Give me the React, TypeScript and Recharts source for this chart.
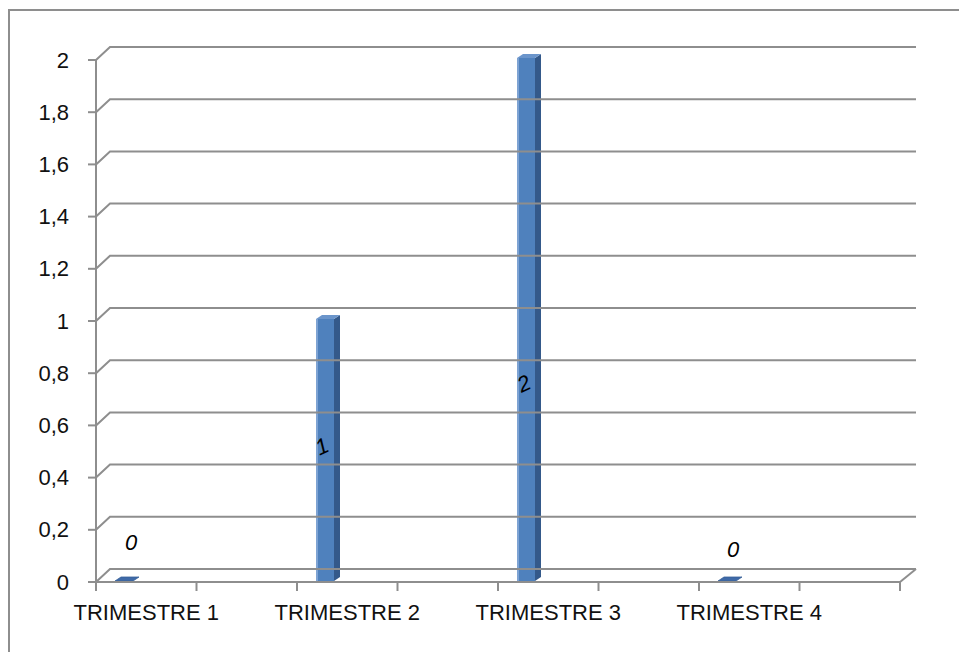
import React from 'react'
import { BarChart, Bar, XAxis, YAxis, LabelList } from 'recharts'

const CATEGORIES = ['TRIMESTRE 1', '', 'TRIMESTRE 2', '', 'TRIMESTRE 3', '', 'TRIMESTRE 4', '']
const VALUES: (number | null)[] = [0, null, 1, null, 2, null, 0, null]
const Y_TICKS = [0, 0.2, 0.4, 0.6, 0.8, 1, 1.2, 1.4, 1.6, 1.8, 2]

const W = 959
const H = 652
const AXIS_X = 96
const X_AXIS_H = 70
const AXIS_Y = H - X_AXIS_H
const PLOT_W = 804
const DEPTH_X = 14
const DEPTH_Y = 13
const SLOT = PLOT_W / CATEGORIES.length
const LINE = '#8e8e8e'
const FONT = '"Liberation Sans", Arial, sans-serif'

// where the value labels sit, per slot (excel 3d puts them oddly)
const LABEL_POS: Record<number, { dx: number; dy: number; frac: number }> = {
  0: { dx: 7, dy: -40, frac: 0 },
  2: { dx: -3, dy: 0, frac: 0.48 },
  4: { dx: -2, dy: 0, frac: 0.62 },
  6: { dx: 6, dy: -33, frac: 0 },
}

const data = CATEGORIES.map((name, i) => ({ key: i, name, value: VALUES[i] }))

const BAR_W = 18
const BAR_SHIFT = -22

function Column(props: any) {
  const { x, y, width, height, value } = props
  if (value == null) return null
  const fl = x + width / 2 - BAR_W / 2 + BAR_SHIFT
  const bottom = y + height - 1
  const dx = 6
  const dy = 4
  if (!height || value === 0) {
    return (
      <polygon
        points={`${fl},${bottom} ${fl + BAR_W},${bottom} ${fl + BAR_W + dx},${bottom - dy} ${fl + dx},${bottom - dy}`}
        fill="#3f6aa8"
        stroke="#375f97"
        strokeWidth={0.8}
      />
    )
  }
  const top = y - 2
  return (
    <g>
      <rect x={fl} y={top} width={BAR_W} height={bottom - top} fill="#4f81bd" />
      <rect x={fl} y={top} width={2} height={bottom - top} fill="#7ea3d3" />
      <polygon
        points={`${fl + BAR_W},${top} ${fl + BAR_W + dx},${top - dy} ${fl + BAR_W + dx},${bottom - dy} ${fl + BAR_W},${bottom}`}
        fill="#34598a"
      />
      <polygon
        points={`${fl},${top} ${fl + dx},${top - dy} ${fl + BAR_W + dx},${top - dy} ${fl + BAR_W},${top}`}
        fill="#6b95cb"
      />
    </g>
  )
}

function ValueLabel(props: any) {
  const { x, y, width, height, value } = props
  if (value == null) return null
  const slot = Math.floor((x + width / 2 - AXIS_X) / SLOT)
  const pos = LABEL_POS[slot] ?? { dx: 0, dy: 0, frac: 0.5 }
  const cx = x + width / 2 + BAR_SHIFT + pos.dx
  const cy = y + height * pos.frac + pos.dy
  const rot = value === 0 ? 0 : -25
  return (
    <text
      x={cx}
      y={cy}
      textAnchor="middle"
      dominantBaseline="central"
      fontFamily={FONT}
      fontStyle="italic"
      fontSize={22}
      fill="#000"
      transform={`rotate(${rot} ${cx} ${cy})`}
    >
      {value}
    </text>
  )
}

function YTick(props: any) {
  const { x, y, payload } = props
  const label = String(payload.value).replace('.', ',')
  return (
    <g>
      <path
        d={`M${AXIS_X},${y} L${AXIS_X + DEPTH_X},${y - DEPTH_Y} L${AXIS_X + PLOT_W + 16},${y - DEPTH_Y}`}
        fill="none"
        stroke={LINE}
        strokeWidth={2}
      />
      <text x={x} y={y} textAnchor="end" dominantBaseline="central" fontFamily={FONT} fontSize={22} fill="#111">
        {label}
      </text>
    </g>
  )
}

function XTick(props: any) {
  const { x, payload, index } = props
  const label = CATEGORIES[payload.value] ?? ''
  const left = x - SLOT / 2
  const right = x + SLOT / 2
  return (
    <g>
      <line x1={left} y1={AXIS_Y} x2={left} y2={AXIS_Y + 9} stroke={LINE} strokeWidth={2} />
      {index === CATEGORIES.length - 1 && (
        <>
          <line x1={right} y1={AXIS_Y} x2={right} y2={AXIS_Y + 9} stroke={LINE} strokeWidth={2} />
          <line x1={right} y1={AXIS_Y} x2={right + 16} y2={AXIS_Y - DEPTH_Y} stroke={LINE} strokeWidth={2} />
        </>
      )}
      {label && (
        <text x={x} y={AXIS_Y + 38} textAnchor="middle" fontFamily={FONT} fontSize={22} fill="#111">
          {label}
        </text>
      )}
    </g>
  )
}

export default function App() {
  return (
    <div style={{ position: 'absolute', left: 0, top: 0, width: W, height: H, background: '#fff', overflow: 'hidden' }}>
      <div
        style={{
          position: 'absolute',
          left: 8,
          top: 9,
          width: W,
          height: H,
          borderTop: `2px solid ${LINE}`,
          borderLeft: `2px solid ${LINE}`,
        }}
      />
      <BarChart
        width={W}
        height={H}
        data={data}
        margin={{ top: 60, right: W - AXIS_X - PLOT_W, bottom: 0, left: 0 }}
        style={{ position: 'absolute', left: 0, top: 0 }}
      >
        <YAxis
          type="number"
          domain={[0, 2]}
          ticks={Y_TICKS}
          interval={0}
          width={AXIS_X}
          axisLine={{ stroke: LINE, strokeWidth: 2 }}
          tickLine={{ stroke: LINE, strokeWidth: 2 }}
          tickSize={8}
          tickMargin={19}
          tick={<YTick />}
        />
        <XAxis
          dataKey="key"
          type="category"
          height={X_AXIS_H}
          interval={0}
          axisLine={{ stroke: LINE, strokeWidth: 2 }}
          tickLine={false}
          tick={<XTick />}
        />
        <Bar dataKey="value" barSize={BAR_W} shape={<Column />} isAnimationActive={false}>
          <LabelList dataKey="value" content={<ValueLabel />} />
        </Bar>
      </BarChart>
    </div>
  )
}
